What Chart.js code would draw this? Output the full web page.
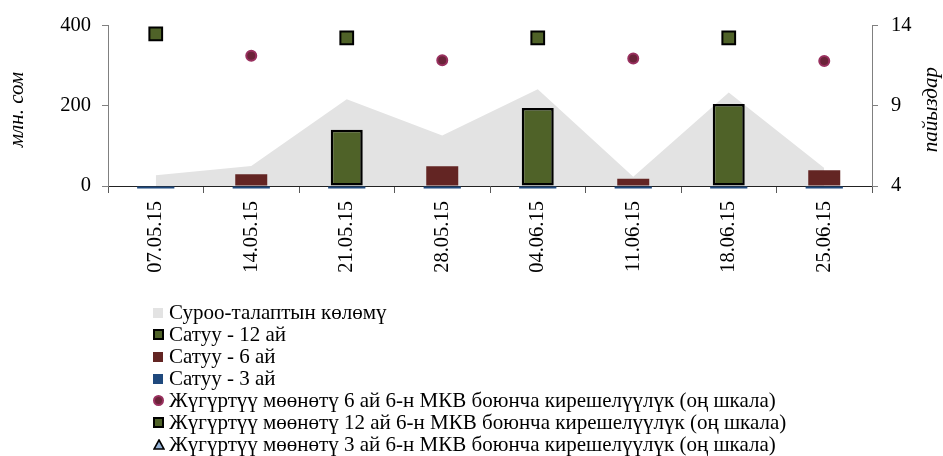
<!DOCTYPE html>
<html>
<head>
<meta charset="utf-8">
<script src="https://cdn.jsdelivr.net/npm/chart.js@4"></script>
<style>
html,body{margin:0;padding:0;background:#fff;}
#wrap{position:relative;width:943px;height:456px;overflow:hidden;background:#fff;}
#chart{position:absolute;left:0;top:0;}
#legend{position:absolute;left:153px;top:302px;font-family:'Liberation Serif','Times New Roman',serif;font-size:21px;color:#000;}
.row{display:flex;align-items:center;height:21.9px;white-space:nowrap;}
.mk{width:16px;height:21.9px;display:flex;align-items:center;justify-content:flex-start;flex:none;}
.mk span{display:block;box-sizing:border-box;}
</style>
</head>
<body>
<div id="wrap">
  <canvas id="chart" width="943" height="456"></canvas>
  <div id="legend"></div>
</div>
<script>
// ---- data ----
const categories = ['07.05.15','14.05.15','21.05.15','28.05.15','04.06.15','11.06.15','18.06.15','25.06.15'];
const demandVolume = [27, 50, 216, 126, 241, 23, 233, 45];
const sales12m = [null, null, 140, null, 194, null, 204, null];
const sales6m  = [null, 29, null, 49, null, 18, null, 39];
const sales3m  = [-6, -6, -6, -6, -6, -6, -6, -6];
const yield6m  = [null, 12.1, null, 11.82, null, 11.94, null, 11.78];
const yield12m = [13.46, null, 13.22, null, 13.22, null, 13.22, null];
const yield3m  = [null, null, null, null, null, null, null, null];
const leftTicks = [0, 200, 400];
const rightTicks = [4, 9, 14];
const leftTitle = 'млн. сом';
const rightTitle = 'пайыздар';
const seriesNames = [
  'Суроо-талаптын көлөмү',
  'Сатуу - 12 ай',
  'Сатуу - 6 ай',
  'Сатуу - 3 ай',
  'Жүгүртүү мөөнөтү 6 ай 6-н МКВ боюнча кирешелүүлүк (оң шкала)',
  'Жүгүртүү мөөнөтү 12 ай 6-н МКВ боюнча кирешелүүлүк (оң шкала)',
  'Жүгүртүү мөөнөтү 3 ай 6-н МКВ боюнча кирешелүүлүк (оң шкала)'
];

const FONT = "'Liberation Serif','Times New Roman',serif";
const C = {grey:'#e3e3e3', green:'#4F6228', red:'#632523', blue:'#1F497D', circ:'#6B2339', circB:'#99305F', tri:'#95B3D7'};

const axisTitles = {
  id:'axisTitles',
  afterDraw(chart){
    const ctx = chart.ctx;
    const cy = (chart.chartArea.top + chart.chartArea.bottom) / 2 + 4;
    ctx.save();
    ctx.font = 'italic 21px ' + FONT;
    ctx.fillStyle = '#000';
    ctx.textAlign = 'center';
    ctx.textBaseline = 'middle';
    [[17, leftTitle], [931, rightTitle]].forEach(([x, t]) => {
      ctx.save(); ctx.translate(x, cy); ctx.rotate(-Math.PI/2); ctx.fillText(t, 0, 0); ctx.restore();
    });
    ctx.restore();
  }
};

const tickFont = {family: FONT, size: 20.5};

new Chart(document.getElementById('chart'), {
  type: 'bar',
  data: {
    labels: categories,
    datasets: [
      {type:'line', label:seriesNames[0], data:demandVolume, yAxisID:'y', backgroundColor:C.grey, borderWidth:0, borderColor:'rgba(0,0,0,0)', pointRadius:0, fill:'origin', tension:0, order:10},
      {type:'bar', label:seriesNames[1], data:sales12m, yAxisID:'y', backgroundColor:C.green, borderColor:'#000', borderWidth:2.5, borderSkipped:false, grouped:false, barPercentage:0.335, categoryPercentage:1, order:5},
      {type:'bar', label:seriesNames[2], data:sales6m, yAxisID:'y', backgroundColor:C.red, borderWidth:0, grouped:false, barPercentage:0.335, categoryPercentage:1, order:5},
      {type:'bar', label:seriesNames[3], data:sales3m, yAxisID:'y', backgroundColor:C.blue, borderWidth:0, grouped:false, barPercentage:0.39, categoryPercentage:1, clip:false, order:4},
      {type:'line', label:seriesNames[4], data:yield6m, yAxisID:'y1', showLine:false, pointStyle:'circle', pointRadius:5, pointBorderWidth:2, pointBackgroundColor:C.circ, pointBorderColor:C.circB, order:1},
      {type:'line', label:seriesNames[5], data:yield12m, yAxisID:'y1', showLine:false, pointStyle:'rect', pointRadius:9, pointBorderWidth:2, pointBackgroundColor:C.green, pointBorderColor:'#000', order:1},
      {type:'line', label:seriesNames[6], data:yield3m, yAxisID:'y1', showLine:false, pointStyle:'triangle', pointRadius:6, pointBorderWidth:1.5, pointBackgroundColor:C.tri, pointBorderColor:'#000', order:1}
    ]
  },
  options: {
    responsive:false,
    animation:false,
    layout:{padding:{top:24, bottom:180, left:0, right:0}},
    plugins:{legend:{display:false}, tooltip:{enabled:false}},
    scales:{
      x:{
        type:'category', offset:true,
        grid:{display:true, drawOnChartArea:false, drawTicks:true, tickLength:7, offset:true, color:'#595959'},
        border:{display:true, color:'#222', width:1},
        ticks:{font:tickFont, color:'#000', minRotation:90, maxRotation:90, padding:8, autoSkip:false},
        afterFit(s){ s.height = 90; }
      },
      y:{
        position:'left', min:0, max:400,
        afterBuildTicks(s){ s.ticks = leftTicks.map(v => ({value:v})); },
        grid:{display:true, drawOnChartArea:false, drawTicks:true, tickLength:6, color:'#808080'},
        border:{display:true, color:'#808080', width:1},
        ticks:{font:tickFont, color:'#000', padding:11},
        afterFit(s){ s.width = 108; }
      },
      y1:{
        position:'right', min:4, max:14,
        afterBuildTicks(s){ s.ticks = rightTicks.map(v => ({value:v})); },
        grid:{display:true, drawOnChartArea:false, drawTicks:true, tickLength:6, color:'#808080'},
        border:{display:true, color:'#808080', width:1},
        ticks:{font:tickFont, color:'#000', padding:13},
        afterFit(s){ s.width = 71; }
      }
    }
  },
  plugins:[axisTitles]
});

// ---- HTML legend ----
const markers = [
  '<span style="width:10px;height:10px;background:'+C.grey+'"></span>',
  '<span style="width:11px;height:11px;background:'+C.green+';border:2px solid #000"></span>',
  '<span style="width:10px;height:10px;background:'+C.red+'"></span>',
  '<span style="width:10px;height:10px;background:'+C.blue+'"></span>',
  '<span style="width:11px;height:11px;border-radius:50%;background:'+C.circ+';border:2px solid '+C.circB+'"></span>',
  '<span style="width:11px;height:11px;background:'+C.green+';border:2px solid #000"></span>',
  '<svg width="12" height="11" viewBox="0 0 12 11" style="display:block"><polygon points="6,1 11,10 1,10" fill="'+C.tri+'" stroke="#000" stroke-width="1.6"/></svg>'
];
const lg = document.getElementById('legend');
seriesNames.forEach((n, i) => {
  const r = document.createElement('div');
  r.className = 'row';
  r.innerHTML = '<div class="mk">' + markers[i] + '</div>';
  const t = document.createElement('span');
  t.textContent = n;
  r.appendChild(t);
  lg.appendChild(r);
});
</script>
</body>
</html>
